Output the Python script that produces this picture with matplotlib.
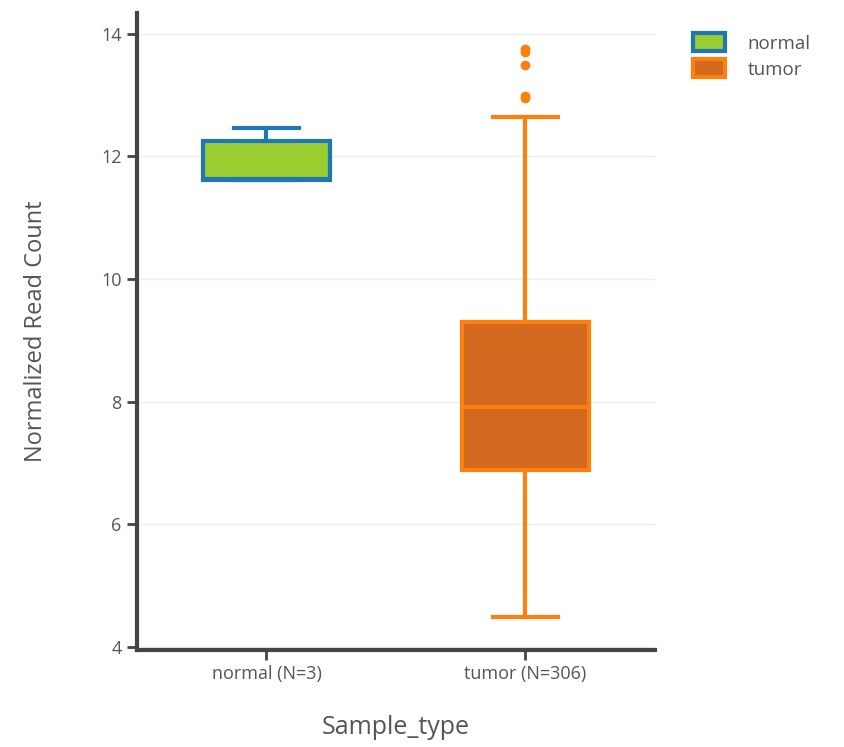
import matplotlib
matplotlib.use("Agg")
import matplotlib.pyplot as plt
from matplotlib.patches import Patch

# box statistics
groups = ["normal", "tumor"]
tick_labels = ["normal (N=3)", "tumor (N=306)"]
whislo = [11.62, 4.49]
q1 = [11.62, 6.88]
med = [11.63, 7.92]
q3 = [12.25, 9.30]
whishi = [12.47, 12.65]
fliers = [[], [13.76, 13.71, 13.49, 12.99, 12.96]]

fills = ["#9acd32", "#d2691e"]
edges = ["#1f77b4", "#ff7f0e"]
axcol = "#444444"
txtcol = "#555555"

stats = []
for i, g in enumerate(groups):
    stats.append({"label": tick_labels[i], "whislo": whislo[i], "q1": q1[i], "med": med[i],
                  "q3": q3[i], "whishi": whishi[i], "fliers": fliers[i]})

fig = plt.figure(figsize=(8.44, 7.47), dpi=100)
ax = fig.add_axes([0.1623, 0.130, 0.776 - 0.1623, 0.9826 - 0.130])

for i, s in enumerate(stats):
    ax.bxp([s], positions=[i], widths=0.49, patch_artist=True, showfliers=True,
           boxprops=dict(facecolor=fills[i], edgecolor=edges[i], linewidth=3),
           medianprops=dict(color=edges[i], linewidth=3),
           whiskerprops=dict(color=edges[i], linewidth=3),
           capprops=dict(color=edges[i], linewidth=3),
           capwidths=0.25,
           flierprops=dict(marker="o", markersize=6, markerfacecolor=edges[i],
                           markeredgecolor=edges[i]))

ax.set_xlim(-0.5, 1.5)
ax.set_ylim(3.95, 14.34)
ax.set_yticks([4, 6, 8, 10, 12, 14])
ax.set_xticks([0, 1])
ax.set_xticklabels(tick_labels)
ax.yaxis.grid(True, color="#eeeeee", linewidth=1)
ax.set_axisbelow(True)

for sp in ["top", "right"]:
    ax.spines[sp].set_visible(False)
for sp in ["left", "bottom"]:
    ax.spines[sp].set_color(axcol)
    ax.spines[sp].set_linewidth(3)
ax.tick_params(axis="both", direction="out", length=7, width=2, color=axcol,
               labelcolor=txtcol, labelsize=13, pad=4)
for t in ax.get_xticklabels() + ax.get_yticklabels():
    t.set_family("Open Sans")

ax.set_ylabel("Normalized Read Count", fontsize=17, color=txtcol, family="Open Sans")
ax.yaxis.set_label_coords(-0.172, 0.5)
ax.set_xlabel("Sample_type", fontsize=18, color=txtcol, family="Open Sans")
ax.xaxis.set_label_coords(0.5, -0.103)

handles = [Patch(facecolor=fills[i], edgecolor=edges[i], linewidth=3, label=g)
           for i, g in enumerate(groups)]
leg = fig.legend(handles=handles, loc="upper left", bbox_to_anchor=(0.801, 0.978),
                 frameon=False, handlelength=1.7, handleheight=1.1,
                 handletextpad=1.2, labelspacing=0.35, prop={"family": "Open Sans", "size": 13.5})
for t in leg.get_texts():
    t.set_color(txtcol)

fig.savefig("out.png", dpi=100)
